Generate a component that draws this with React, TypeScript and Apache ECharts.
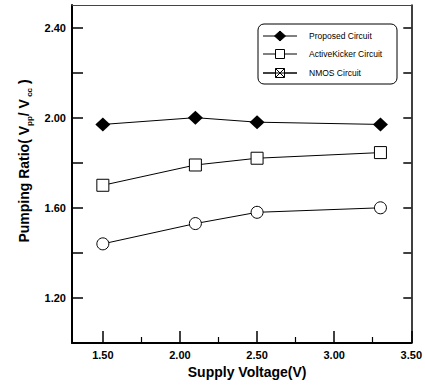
import React, { useEffect, useRef } from "react";
import * as echarts from "echarts";

const supplyVoltage = [1.5, 2.1, 2.5, 3.3];
const proposed = [1.97, 2.0, 1.98, 1.97];
const activeKicker = [1.7, 1.79, 1.82, 1.845];
const nmos = [1.44, 1.53, 1.58, 1.6];
const seriesNames = ["Proposed Circuit", "ActiveKicker Circuit", "NMOS Circuit"];
const xMajorTicks = [1.5, 2.0, 2.5, 3.0, 3.5];
const xMinorTicks = [1.75, 2.25, 2.75, 3.25];
const yTicks = [1.2, 1.4, 1.6, 1.8, 2.0, 2.2, 2.4];
const yLabels = [1.2, 1.6, 2.0, 2.4];

const FONT = "'Liberation Sans', Arial, sans-serif";

export default function App() {
  const ref = useRef<HTMLDivElement>(null);

  useEffect(() => {
    if (!ref.current) return;
    const chart = echarts.init(ref.current, null, { renderer: "svg" });
    const pts = (ys: number[]) => supplyVoltage.map((x, i) => [x, ys[i]]);
    const xMin = 1.3;
    const xMax = 3.5;
    const yMin = 1.0;
    const yMax = 2.5;

    // legend drawn with graphic elements
    const lx0 = 263;
    const lx1 = 297;
    const mx = 280;
    const rows = [36, 54, 73];
    const legend: any[] = [
      {
        type: "rect",
        shape: { x: 258, y: 24, width: 139, height: 60, r: 6 },
        style: { fill: "#fff", stroke: "#000", lineWidth: 1 },
        z: 10,
      },
    ];
    rows.forEach((ry, i) => {
      legend.push({
        type: "line",
        shape: { x1: lx0, y1: ry, x2: lx1, y2: ry },
        style: { stroke: "#000", lineWidth: 1 },
        z: 11,
      });
      legend.push({
        type: "text",
        x: 309,
        y: ry,
        style: {
          text: seriesNames[i],
          fontSize: 8.5,
          fontFamily: FONT,
          fill: "#000",
          verticalAlign: "middle",
          align: "left",
        },
        z: 11,
      });
    });
    legend.push({
      type: "polygon",
      shape: { points: [[mx, rows[0] - 5], [mx + 5.5, rows[0]], [mx, rows[0] + 5], [mx - 5.5, rows[0]]] },
      style: { fill: "#000", stroke: "#000" },
      z: 12,
    });
    legend.push({
      type: "rect",
      shape: { x: mx - 4.5, y: rows[1] - 4.5, width: 9, height: 9 },
      style: { fill: "#fff", stroke: "#000", lineWidth: 1 },
      z: 12,
    });
    legend.push({
      type: "rect",
      shape: { x: mx - 4.5, y: rows[2] - 4.5, width: 9, height: 9 },
      style: { fill: "#fff", stroke: "#000", lineWidth: 1 },
      z: 12,
    });
    legend.push({
      type: "line",
      shape: { x1: mx - 4.5, y1: rows[2] - 4.5, x2: mx + 4.5, y2: rows[2] + 4.5 },
      style: { stroke: "#000", lineWidth: 1 },
      z: 13,
    });
    legend.push({
      type: "line",
      shape: { x1: mx + 4.5, y1: rows[2] - 4.5, x2: mx - 4.5, y2: rows[2] + 4.5 },
      style: { stroke: "#000", lineWidth: 1 },
      z: 13,
    });
    legend.push({
      type: "line",
      shape: { x1: lx0, y1: rows[2], x2: lx1, y2: rows[2] },
      style: { stroke: "#000", lineWidth: 1 },
      z: 14,
    });

    const option: any = {
      animation: false,
      backgroundColor: "#fff",
      grid: { left: 72, right: 12, top: 5, bottom: 42, containLabel: false },
      xAxis: [
        {
          type: "value",
          min: xMin,
          max: xMax,
          position: "bottom",
          axisLine: { show: true, onZero: false, lineStyle: { color: "#000", width: 2 } },
          axisTick: {
            show: true,
            inside: true,
            length: 12,
            customValues: xMajorTicks,
            lineStyle: { color: "#000", width: 1.5 },
          },
          axisLabel: {
            customValues: xMajorTicks,
            formatter: (v: number) => v.toFixed(2),
            fontSize: 11,
            fontWeight: "bold",
            fontFamily: FONT,
            color: "#000",
            margin: 6,
          },
          splitLine: { show: false },
          name: "Supply Voltage(V)",
          nameLocation: "middle",
          nameGap: 22,
          nameTextStyle: {
            fontSize: 14,
            fontWeight: "bold",
            fontFamily: FONT,
            color: "#000",
            padding: [0, 0, 0, 11],
          },
        },
        {
          type: "value",
          min: xMin,
          max: xMax,
          position: "bottom",
          axisLine: { show: false, onZero: false },
          axisTick: {
            show: true,
            inside: true,
            length: 6,
            customValues: xMinorTicks,
            lineStyle: { color: "#000", width: 1.2 },
          },
          axisLabel: { show: false },
          splitLine: { show: false },
        },
        {
          type: "value",
          min: xMin,
          max: xMax,
          position: "top",
          axisLine: { show: true, onZero: false, lineStyle: { color: "#444", width: 1 } },
          axisTick: { show: false },
          axisLabel: { show: false },
          splitLine: { show: false },
        },
      ],
      yAxis: [
        {
          type: "value",
          min: yMin,
          max: yMax,
          position: "left",
          axisLine: { show: true, onZero: false, lineStyle: { color: "#000", width: 2 } },
          axisTick: {
            show: true,
            inside: true,
            length: 11,
            customValues: yTicks,
            lineStyle: { color: "#000", width: 1.5 },
          },
          axisLabel: {
            customValues: yLabels,
            formatter: (v: number) => v.toFixed(2),
            fontSize: 11,
            fontWeight: "bold",
            fontFamily: FONT,
            color: "#000",
            margin: 6,
          },
          splitLine: { show: false },
          name: "{t|Pumping Ratio( V}{s|pp}{t|/ V}{s| cc}{t| )}",
          nameLocation: "middle",
          nameRotate: 90,
          nameGap: 29,
          nameTextStyle: {
            padding: [0, 0, 0, 26],
            rich: {
              t: {
                fontSize: 14,
                fontWeight: "bold",
                fontFamily: FONT,
                color: "#000",
                lineHeight: 20,
                verticalAlign: "middle",
              },
              s: {
                fontSize: 8,
                fontWeight: "bold",
                fontFamily: FONT,
                color: "#000",
                lineHeight: 20,
                verticalAlign: "bottom",
              },
            },
          },
        },
        {
          type: "value",
          min: yMin,
          max: yMax,
          position: "right",
          axisLine: { show: true, onZero: false, lineStyle: { color: "#000", width: 1.5 } },
          axisTick: {
            show: true,
            inside: true,
            length: 8,
            customValues: yTicks,
            lineStyle: { color: "#000", width: 1.5 },
          },
          axisLabel: { show: false },
          splitLine: { show: false },
        },
      ],
      series: [
        {
          type: "line",
          name: seriesNames[0],
          data: pts(proposed),
          xAxisIndex: 0,
          yAxisIndex: 0,
          symbol: "diamond",
          symbolSize: [15, 14],
          itemStyle: { color: "#000" },
          lineStyle: { color: "#000", width: 1 },
          z: 3,
        },
        {
          type: "line",
          name: seriesNames[1],
          data: pts(activeKicker),
          xAxisIndex: 0,
          yAxisIndex: 0,
          symbol: "rect",
          symbolSize: 12,
          itemStyle: { color: "#fff", borderColor: "#000", borderWidth: 1 },
          lineStyle: { color: "#000", width: 1 },
          z: 3,
        },
        {
          type: "line",
          name: seriesNames[2],
          data: pts(nmos),
          xAxisIndex: 0,
          yAxisIndex: 0,
          symbol: "circle",
          symbolSize: 12,
          itemStyle: { color: "#fff", borderColor: "#000", borderWidth: 1 },
          lineStyle: { color: "#000", width: 1 },
          z: 3,
        },
      ],
      graphic: legend,
    };
    chart.setOption(option);
    return () => chart.dispose();
  }, []);

  return (
    <div
      ref={ref}
      style={{ position: "fixed", left: 0, top: 0, width: 425, height: 385, background: "#fff" }}
    />
  );
}
